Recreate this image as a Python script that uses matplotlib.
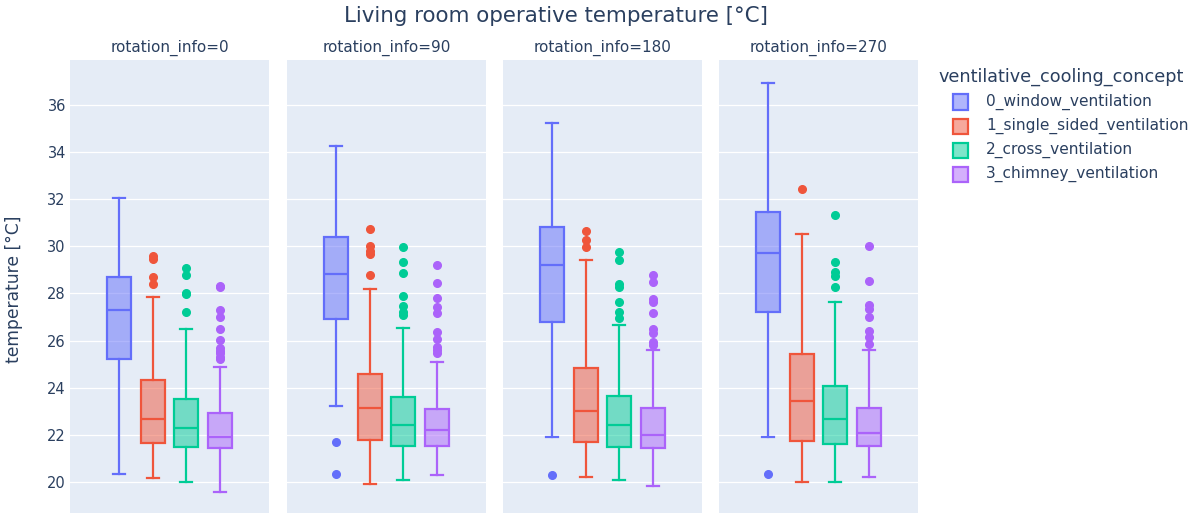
import matplotlib
matplotlib.use("Agg")
import matplotlib.pyplot as plt
from matplotlib.patches import Rectangle
from matplotlib.colors import to_rgba

plt.rcParams['font.family'] = ['DejaVu Sans']

rotations = [0, 90, 180, 270]
concepts = ['0_window_ventilation', '1_single_sided_ventilation',
            '2_cross_ventilation', '3_chimney_ventilation']
colors = ['#636EFA', '#EF553B', '#00CC96', '#AB63FA']

window_q1 = [25.21, 26.92, 26.80, 27.20]
window_med = [27.30, 28.83, 29.22, 29.73]
window_q3 = [28.68, 30.41, 30.81, 31.47]
window_lo = [20.34, 23.23, 21.90, 21.92]
window_hi = [32.04, 34.26, 35.25, 36.95]
window_out = [[], [21.71, 20.34], [20.31], [20.33]]

single_q1 = [21.64, 21.78, 21.71, 21.75]
single_med = [22.66, 23.13, 23.03, 23.45]
single_q3 = [24.33, 24.57, 24.83, 25.45]
single_lo = [20.16, 19.90, 20.20, 20.01]
single_hi = [27.85, 28.20, 29.41, 30.54]
single_out = [[29.59, 29.45, 28.71, 28.42],
              [30.74, 30.03, 29.82, 29.68, 28.79],
              [30.67, 30.27, 29.99],
              [32.45]]

cross_q1 = [21.50, 21.53, 21.50, 21.61]
cross_med = [22.28, 22.41, 22.42, 22.66]
cross_q3 = [23.51, 23.62, 23.65, 24.05]
cross_lo = [20.01, 20.06, 20.06, 20.01]
cross_hi = [26.48, 26.55, 26.66, 27.63]
cross_out = [[29.07, 28.79, 28.03, 27.97, 27.23],
             [29.96, 29.32, 28.88, 27.91, 27.47, 27.23, 27.09],
             [29.78, 29.42, 28.40, 28.26, 27.63, 27.23, 26.95],
             [31.33, 29.33, 28.90, 28.76, 28.26]]

chimney_q1 = [21.46, 21.53, 21.43, 21.53]
chimney_med = [21.92, 22.21, 21.99, 22.07]
chimney_q3 = [22.92, 23.11, 23.13, 23.15]
chimney_lo = [19.59, 20.30, 19.84, 20.21]
chimney_hi = [24.89, 25.08, 25.60, 25.60]
chimney_out = [[28.33, 28.26, 27.30, 27.00, 26.48, 26.03, 25.67, 25.55, 25.46, 25.30, 25.21],
               [29.20, 28.45, 27.80, 27.44, 27.19, 26.37, 26.06, 25.72, 25.60, 25.49],
               [28.79, 28.48, 27.75, 27.62, 27.19, 26.48, 26.31, 25.96, 25.82],
               [30.03, 28.54, 27.51, 27.34, 27.02, 26.42, 26.17, 25.84]]

series = [
    (window_q1, window_med, window_q3, window_lo, window_hi, window_out),
    (single_q1, single_med, single_q3, single_lo, single_hi, single_out),
    (cross_q1, cross_med, cross_q3, cross_lo, cross_hi, cross_out),
    (chimney_q1, chimney_med, chimney_q3, chimney_lo, chimney_hi, chimney_out),
]

W, H = 1192, 513
fig = plt.figure(figsize=(W / 100, H / 100), dpi=100)
text_color = '#2a3f5f'
panel_bg = '#E5ECF6'

panel_lefts = [70, 287, 503, 719]
panel_w = 199
top_px = 60
offsets = [-0.252, -0.084, 0.084, 0.252]
box_w = 0.122
lw = 1.6

for r, (rot, left) in enumerate(zip(rotations, panel_lefts)):
    ax = fig.add_axes([left / W, 0, panel_w / W, (H - top_px) / H])
    ax.set_facecolor(panel_bg)
    for s in ax.spines.values():
        s.set_visible(False)

    for c, (q1, med, q3, lo, hi, out) in enumerate(series):
        col = colors[c]
        stats = [dict(q1=q1[r], med=med[r], q3=q3[r], whislo=lo[r], whishi=hi[r],
                      fliers=out[r])]
        ax.bxp(stats, positions=[offsets[c]], widths=box_w, capwidths=box_w / 2,
               patch_artist=True, showfliers=True, manage_ticks=False,
               boxprops=dict(facecolor=to_rgba(col, 0.5), edgecolor=col, linewidth=lw),
               medianprops=dict(color=col, linewidth=lw),
               whiskerprops=dict(color=col, linewidth=lw),
               capprops=dict(color=col, linewidth=lw),
               flierprops=dict(marker='o', markerfacecolor=col, markeredgecolor=col,
                               markersize=5.5, linestyle='none'))

    ax.set_xlim(-0.5, 0.5)
    ax.set_ylim(18.68, 37.91)
    ax.set_xticks([])
    ax.set_yticks(range(20, 38, 2))
    ax.grid(axis='y', color='white', linewidth=0.9)
    ax.set_axisbelow(True)
    ax.tick_params(axis='y', length=0, pad=3, labelsize=10.5, labelcolor=text_color)
    if r > 0:
        ax.tick_params(axis='y', labelleft=False)
    ax.set_title(f'rotation_info={rot}', fontsize=11, color=text_color, pad=6)

fig.text(14 / W, 1 - 289 / H, 'temperature [°C]', rotation=90,
         ha='center', va='center', fontsize=12.3, color=text_color)

fig.text(556 / W, 1 - 16 / H, 'Living room operative temperature [°C]',
         ha='center', va='center', fontsize=15.4, color=text_color)

# legend (drawn manually to match placement)
fig.text(938 / W, 1 - 77 / H, 'ventilative_cooling_concept', ha='left', va='center',
         fontsize=12.7, color=text_color)
for i, (col, lab) in enumerate(zip(colors, concepts)):
    yc = 102 + 24 * i
    fig.add_artist(Rectangle((953 / W, 1 - (yc + 7.5) / H), 15 / W, 15 / H,
                             transform=fig.transFigure,
                             facecolor=to_rgba(col, 0.5), edgecolor=col, linewidth=lw))
    fig.text(986 / W, 1 - yc / H, lab, ha='left', va='center',
             fontsize=11.1, color=text_color)

fig.savefig('out.png', dpi=100)
